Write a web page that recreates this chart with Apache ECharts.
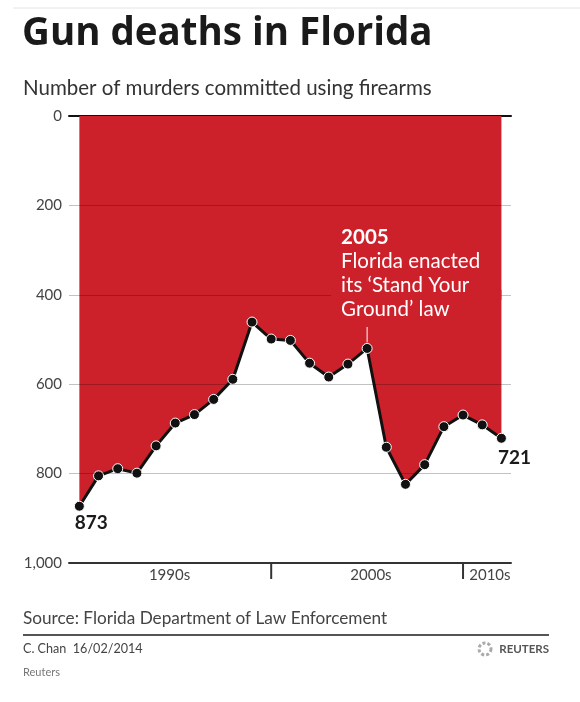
<!DOCTYPE html>
<html lang="en">
<head>
<meta charset="UTF-8">
<title>Gun deaths in Florida</title>
<script src="https://cdn.jsdelivr.net/npm/echarts@6/dist/echarts.min.js"></script>
<style>html,body{margin:0;padding:0;background:#fff;}</style>
</head>
<body>
<div id="chartmain" style="width:580px;height:702px;"></div>
<script type="text/javascript">
var years = [1990, 1991, 1992, 1993, 1994, 1995, 1996, 1997, 1998, 1999, 2000,
             2001, 2002, 2003, 2004, 2005, 2006, 2007, 2008, 2009, 2010, 2011, 2012];
var murders = [873, 805, 789, 799, 738, 687, 668, 634, 589, 461, 499,
               502, 553, 584, 555, 520, 741, 824, 780, 695, 669, 691, 721];
var yTicks = [0, 200, 400, 600, 800, 1000];
var gridValues = [200, 400, 600, 800];
var decadeTicks = [2000, 2010];
var decadeLabels = ['1990s', '2000s', '2010s'];
var decadeLabelAt = [1994.7, 2005.2, 2011.4];
var lawYear = 2005;

var RED = '#cc212a';
var FONT = 'Lato';

var points = years.map(function (y, i) { return [y, murders[i]]; });

var seriesData = points.map(function (pt, i) {
    var item = { value: pt };
    if (i === 0 || i === points.length - 1) {
        item.label = {
            show: true,
            position: 'bottom',
            offset: i === 0 ? [12, -3] : [13, 0],
            fontFamily: FONT,
            fontWeight: 'bold',
            fontSize: 19,
            color: '#1a1a1a',
            formatter: '{@[1]}'
        };
    }
    return item;
});

var myChart = echarts.init(document.getElementById('chartmain'));
myChart.setOption({
    animation: false,
    grid: { left: 69, right: 69, top: 116, bottom: 139, containLabel: false },
    xAxis: [{
        type: 'value',
        min: 1989.46,
        max: 2012.5,
        position: 'bottom',
        axisLine: { show: true, onZero: false, lineStyle: { color: '#333', width: 2 } },
        axisTick: { show: false },
        axisLabel: {
            customValues: decadeLabelAt,
            margin: 5,
            fontFamily: FONT,
            fontSize: 15,
            color: '#444',
            formatter: function (v) {
                var i = decadeLabelAt.indexOf(v);
                return i >= 0 ? decadeLabels[i] : '';
            }
        },
        splitLine: { show: false }
    }, {
        type: 'value',
        min: 1989.46,
        max: 2012.5,
        position: 'top',
        axisLine: { show: true, onZero: false, lineStyle: { color: '#111', width: 2 } },
        axisTick: { show: false },
        axisLabel: { show: false },
        splitLine: { show: false }
    }],
    yAxis: {
        type: 'value',
        inverse: true,
        min: 0,
        max: 1000,
        interval: 200,
        axisLine: { show: false },
        axisTick: { show: false },
        axisLabel: {
            customValues: yTicks,
            margin: 7,
            fontFamily: FONT,
            fontSize: 15,
            color: '#444',
            formatter: function (v) { return v.toLocaleString('en-US'); }
        },
        splitLine: { show: false }
    },
    series: [{
        // red fill between zero (top) and the line
        type: 'line',
        z: 1,
        data: points,
        symbol: 'none',
        lineStyle: { width: 0 },
        areaStyle: { color: RED, opacity: 1, origin: 'auto' }
    }, {
        // gridlines, drawn above the red fill
        type: 'line',
        z: 2,
        data: [],
        markLine: {
            silent: true,
            symbol: 'none',
            animation: false,
            label: { show: false },
            lineStyle: { color: 'rgba(0,0,0,0.24)', width: 1, type: 'solid' },
            data: gridValues.map(function (v) { return { yAxis: v }; })
        }
    }, {
        type: 'line',
        z: 3,
        data: seriesData,
        symbol: 'circle',
        symbolSize: 10,
        lineStyle: { color: '#111', width: 3 },
        itemStyle: { color: '#111', borderColor: '#fff', borderWidth: 1 }
    }]
});

// annotation, decade ticks and page text
var lawIdx = years.indexOf(lawYear);
var p = myChart.convertToPixel({ gridIndex: 0 }, [lawYear, murders[lawIdx]]);
var pEnd = myChart.convertToPixel({ gridIndex: 0 }, points[points.length - 1]);
var p400 = myChart.convertToPixel({ gridIndex: 0 }, [lawYear, 400]);

var graphics = [
    { type: 'line', z: 100, shape: { x1: 13, y1: 8, x2: 580, y2: 8 }, style: { stroke: '#e4e4e4', lineWidth: 1 } },
    { type: 'text', z: 100, x: 22, y: 34, style: { text: 'Gun deaths in Florida', font: 'bold 38.5px "Open Sans"', fill: '#1a1a1a', verticalAlign: 'middle' } },
    { type: 'text', z: 100, x: 23, y: 88, style: { text: 'Number of murders committed using firearms', font: '20.5px Lato', fill: '#333', verticalAlign: 'middle' } },

    // hide the gridline behind the note
    { type: 'rect', z: 100, shape: { x: p[0] - 36, y: p400[1] - 5, width: pEnd[0] - p[0] + 36, height: 10 }, style: { fill: RED } },
    { type: 'line', z: 101, shape: { x1: p[0], y1: p[1] - 6, x2: p[0], y2: 327 }, style: { stroke: '#fff', lineWidth: 1 } },
    {
        type: 'text', z: 101, x: p[0] - 26, y: 225,
        style: {
            text: '{b|2005}\n{n|Florida enacted}\n{n|its \u2018Stand Your}\n{n|Ground\u2019 law}',
            verticalAlign: 'top',
            rich: {
                b: { fontFamily: FONT, fontWeight: 'bold', fontSize: 20.5, lineHeight: 24, fill: '#fff', color: '#fff' },
                n: { fontFamily: FONT, fontSize: 20.5, lineHeight: 24, fill: '#fff', color: '#fff' }
            }
        }
    },

    { type: 'text', z: 100, x: 23, y: 618, style: { text: 'Source: Florida Department of Law Enforcement', font: '17.2px Lato', fill: '#444', verticalAlign: 'middle' } },
    { type: 'line', z: 100, shape: { x1: 23, y1: 635, x2: 549, y2: 635 }, style: { stroke: '#555', lineWidth: 2 } },
    { type: 'text', z: 100, x: 23, y: 649, style: { text: 'C. Chan  16/02/2014', font: '12.6px Lato', fill: '#444', verticalAlign: 'middle' } },
    { type: 'circle', z: 100, shape: { cx: 485, cy: 649, r: 6 }, style: { fill: 'none', stroke: '#aaa', lineWidth: 3, lineDash: [3, 2] } },
    { type: 'text', z: 100, x: 549, y: 649, style: { text: 'REUTERS', font: 'bold 11.5px Lato', fill: '#555', align: 'right', verticalAlign: 'middle' } },
    { type: 'text', z: 100, x: 23, y: 672, style: { text: 'Reuters', font: '11px Lato', fill: '#777', verticalAlign: 'middle' } }
];

// decade ticks below the bottom axis
var axisY = myChart.convertToPixel({ gridIndex: 0 }, [2000, 1000])[1];
decadeTicks.forEach(function (t) {
    var x = myChart.convertToPixel({ gridIndex: 0 }, [t, 1000])[0];
    graphics.push({ type: 'line', z: 100, shape: { x1: x, y1: axisY, x2: x, y2: axisY + 16 }, style: { stroke: '#333', lineWidth: 2 } });
});

myChart.setOption({ graphic: graphics });
</script>
</body>
</html>
